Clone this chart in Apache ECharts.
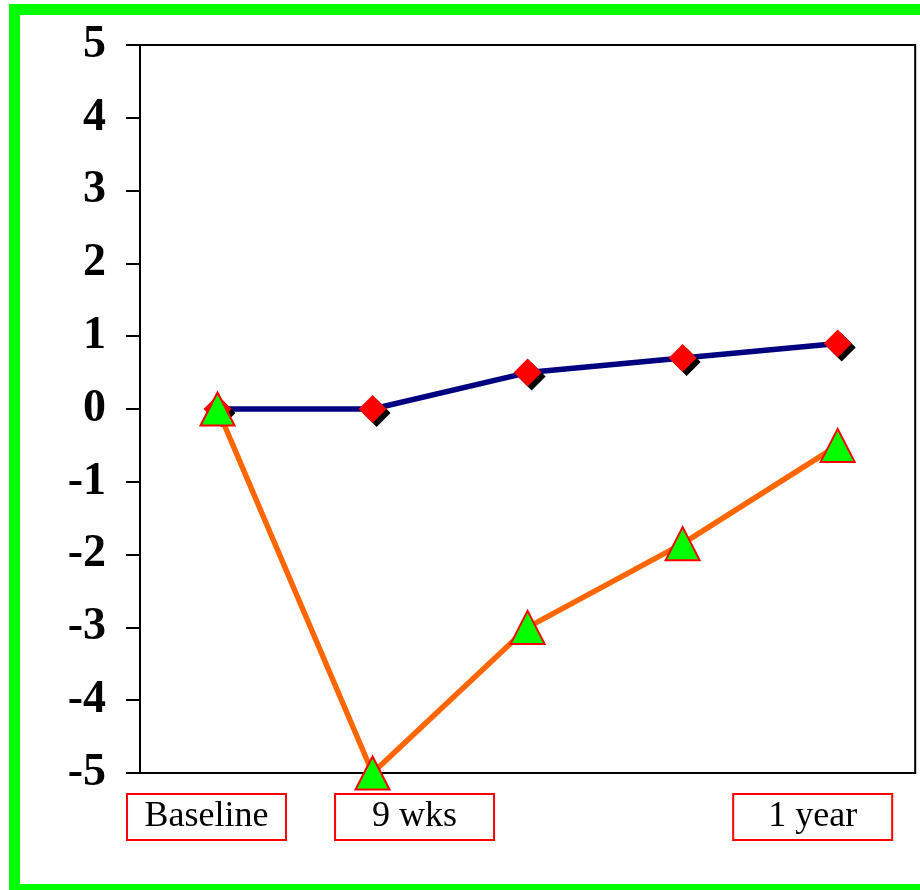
<!DOCTYPE html>
<html>
<head>
<meta charset="utf-8">
<script src="https://cdn.jsdelivr.net/npm/echarts@6/dist/echarts.min.js"></script>
<style>
  html, body { margin: 0; padding: 0; background: #fff; }
  #chart { width: 920px; height: 890px; }
</style>
</head>
<body>
<div id="chart"></div>
<script>
// Time points along the x axis (only three of them carry a printed label)
const timepoints = ['Baseline', '9 wks', '', '', '1 year'];

// Change from baseline for the two groups
const seriesA = [0, 0, 0.5, 0.7, 0.9];
const seriesB = [0, -5, -3, -1.85, -0.5];

// Y axis range and step
const yMin = -5;
const yMax = 5;
const yStep = 1;

const chart = echarts.init(document.getElementById('chart'), null, { renderer: 'canvas' });

const serif = '"Liberation Serif", "Times New Roman", serif';

// Each printed time-point label sits in a red box; spacer tokens nudge the box
// sideways relative to its tick position.
const boxRich = {
  box: {
    width: 159, height: 46, lineHeight: 46, align: 'center',
    borderColor: '#FF0000', borderWidth: 2,
    fontFamily: serif, fontSize: 36, color: '#000'
  },
  s22: { width: 22, height: 46 },
  s50: { width: 50, height: 46 },
  s84: { width: 84, height: 46 }
};
const labelLayout = {
  'Baseline': (t) => '{box|' + t + '}{s22|}',
  '9 wks': (t) => '{s84|}{box|' + t + '}',
  '1 year': (t) => '{box|' + t + '}{s50|}'
};

chart.setOption({
  backgroundColor: '#ffffff',
  animation: false,
  graphic: [{
    type: 'rect',
    shape: { x: 14.5, y: 9.5, width: 1000, height: 880 },
    style: { fill: 'none', stroke: '#00FF00', lineWidth: 11 },
    silent: true,
    z: 100
  }],
  grid: {
    left: 140, top: 45, right: 3, bottom: 117,
    show: true, borderColor: '#000', borderWidth: 2,
    backgroundColor: 'transparent'
  },
  xAxis: {
    type: 'category',
    data: timepoints,
    boundaryGap: true,
    axisLine: { show: true, onZero: false, lineStyle: { color: '#000', width: 2 } },
    axisTick: { show: false },
    axisLabel: {
      interval: 0,
      margin: 21,
      formatter: (v) => (labelLayout[v] ? labelLayout[v](v) : ''),
      rich: boxRich
    },
    splitLine: { show: false }
  },
  yAxis: {
    type: 'value',
    min: yMin, max: yMax, interval: yStep,
    axisLine: { show: true, lineStyle: { color: '#000', width: 2 } },
    axisTick: { show: true, length: 14, lineStyle: { color: '#000', width: 2 } },
    axisLabel: {
      margin: 34,
      fontFamily: serif, fontWeight: 'bold', fontSize: 46, color: '#000'
    },
    splitLine: { show: false }
  },
  series: [
    {
      type: 'line',
      data: seriesA,
      clip: false,
      symbol: 'diamond',
      symbolSize: 28,
      lineStyle: { color: '#000080', width: 5.5 },
      itemStyle: {
        color: '#FF0000', borderWidth: 0,
        shadowColor: '#000', shadowBlur: 0, shadowOffsetX: 4, shadowOffsetY: 4
      },
      z: 2
    },
    {
      type: 'line',
      data: seriesB,
      clip: false,
      symbol: 'triangle',
      symbolSize: [34, 33],
      lineStyle: { color: '#FF6600', width: 5.5 },
      itemStyle: { color: '#00FF00', borderColor: '#FF0000', borderWidth: 2 },
      z: 3
    }
  ]
});
</script>
</body>
</html>
